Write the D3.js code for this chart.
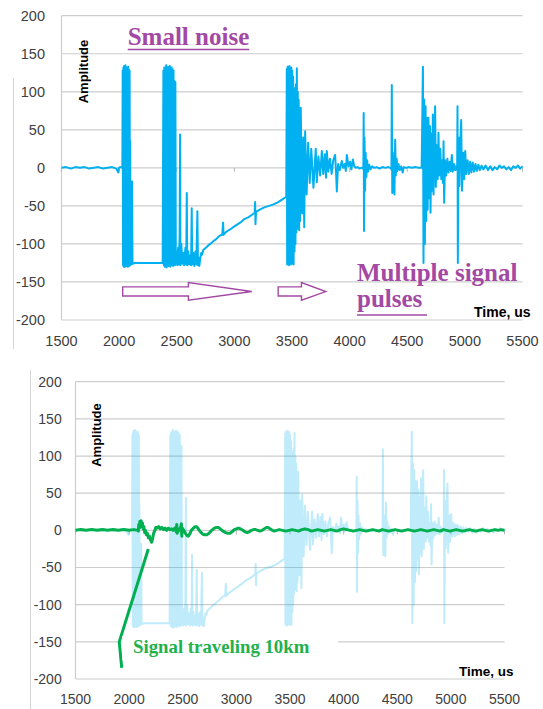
<!DOCTYPE html>
<html>
<head>
<meta charset="utf-8">
<script src="https://cdn.jsdelivr.net/npm/d3@7"></script>
<style>
  html, body { margin: 0; padding: 0; background: #fff; }
  svg { display: block; }
</style>
</head>
<body>
<svg id="chart" width="543" height="709"></svg>
<script>
// ---------------- DATA ----------------
const xTicks = [1500, 2000, 2500, 3000, 3500, 4000, 4500, 5000, 5500];
const yTicks = [200, 150, 100, 50, 0, -50, -100, -150, -200];

// Received pulse signal (time in us, amplitude), read segment by segment
const preTrigger = [[1500,0],[1540,1],[1580,-1],[1620,1],[1660,0],[1700,1],[1740,-1],[1780,0],[1820,1],[1860,-1],[1900,0],[1940,1],[1975,-1],[1993,-6],[1998,0],[2010,1],[2028,0]];
const burst1 = [[2031,128],[2034,-128],[2037,132],[2040,-130],[2043,134],[2046,-128],[2049,131],[2052,-130],[2055,135],[2058,-127],[2061,130],[2064,-129],[2067,132],[2070,-128],[2073,130],[2076,-130],[2079,133],[2082,-127],[2085,129],[2088,-129],[2091,128],[2094,-128],[2096,35],[2099,-127],[2103,-40],[2107,-127],[2112,-18],[2116,-126]];
const plateau = [[2140,-125],[2200,-125],[2260,-125],[2320,-125],[2378,-125]];
const burst2 = [[2384,128],[2388,-128],[2392,132],[2396,-130],[2400,131],[2404,-126],[2408,135],[2412,-131],[2416,130],[2420,-127],[2424,133],[2428,-129],[2432,131],[2436,-126],[2440,134],[2444,-130],[2448,130],[2452,-128],[2456,132],[2460,-127],[2464,130],[2468,-129],[2472,128],[2476,-126],[2480,114],[2484,-128],[2488,113],[2492,-126]];
const aftershocks = [[2500,-110],[2505,-128],[2512,-105],[2518,-127],[2525,-90],[2529,44],[2532,-128],[2540,-100],[2548,-126],[2556,-112],[2564,-128],[2575,-105],[2582,-127],[2587,-33],[2591,-128],[2600,-110],[2608,-127],[2616,-115],[2624,-128],[2630,-53],[2634,-127],[2643,-112],[2652,-129],[2662,-110],[2670,-127],[2679,-57],[2684,-128],[2690,-118],[2696,-129]];
const recovery = [[2705,-118],[2712,-112],[2720,-114],[2730,-108],[2745,-106],[2760,-104],[2780,-101],[2800,-99],[2820,-96],[2840,-94],[2860,-91],[2876,-89],[2895,-88],[2902,-72],[2906,-88],[2930,-84],[2963,-81],[3000,-77],[3030,-74],[3060,-71],[3090,-67],[3120,-65],[3150,-62],[3176,-59],[3180,-45],[3183,-74],[3188,-58],[3220,-55],[3260,-52],[3300,-50],[3340,-48],[3380,-45],[3420,-41],[3450,-38]];
const burst3 = [[3455,130],[3458,-127],[3462,133],[3466,-125],[3470,131],[3474,-128],[3478,134],[3482,-126],[3486,130],[3490,-127],[3494,132],[3498,-124],[3502,128],[3506,-126],[3510,120],[3514,-127],[3518,105],[3522,-110],[3526,94],[3530,-100],[3534,110],[3538,-85],[3542,131],[3546,-80],[3550,100],[3554,-75],[3558,90],[3562,-82],[3566,75],[3570,-70]];
const decay3 = [[3576,79],[3588,-60],[3598,40],[3606,-78],[3614,48],[3627,-35],[3640,33],[3654,-20],[3667,25],[3686,-26],[3706,25],[3715,-19],[3729,15],[3744,-10],[3759,22],[3771,-8],[3784,18],[3795,-13],[3802,22],[3815,-5],[3829,12],[3844,-8],[3858,10],[3874,17],[3882,-5],[3889,-31],[3900,5],[3915,-3],[3932,9],[3945,0],[3958,5],[3967,-4],[3976,17],[3990,2],[4004,8],[4015,-2],[4028,11],[4040,2],[4055,0],[4070,1],[4085,-1],[4100,0],[4115,0]];
const echo1 = [[4119,-2],[4122,72],[4125,-83],[4129,40],[4134,-30],[4139,20],[4145,-12],[4152,10],[4160,-5],[4170,4],[4182,-2],[4195,2],[4215,0],[4235,1],[4260,-1],[4285,1],[4310,0],[4335,1],[4355,0]];
const echo2 = [[4363,-2],[4366,109],[4370,-33],[4375,20],[4381,-15],[4389,-35],[4395,37],[4401,-10],[4408,12],[4415,-4],[4424,5],[4435,-3],[4447,2],[4460,-6],[4470,1],[4490,0],[4510,1],[4540,0],[4570,1],[4600,0],[4625,0]];
const burst4 = [[4636,133],[4641,-125],[4647,90],[4653,-100],[4659,81],[4665,-70],[4671,66],[4677,-55],[4684,66],[4690,-40],[4697,55],[4702,-59],[4710,45],[4717,-30],[4722,70],[4728,-35],[4735,40],[4742,81],[4748,-25],[4756,30],[4764,-15],[4771,46],[4778,-10],[4787,25],[4795,-15],[4803,10],[4810,-20],[4815,35],[4820,-46],[4828,10],[4838,-10],[4848,12],[4858,-6],[4868,8],[4878,-4],[4887,17],[4895,-5],[4905,5],[4915,-3],[4925,2]];
const burst5 = [[4933,-3],[4936,81],[4939,-125],[4945,40],[4952,-24],[4960,30],[4968,63],[4975,-30],[4985,20],[4994,-15],[5003,22],[5012,-8],[5024,10],[5035,-8],[5046,8],[5057,-6],[5068,7],[5080,-5],[5092,5],[5104,-4],[5117,4],[5130,-3],[5145,3],[5160,-2],[5180,3],[5200,-3],[5220,2],[5240,-3],[5260,1],[5280,-2],[5300,3],[5320,0],[5340,2],[5360,-2],[5380,1],[5400,-3],[5420,2],[5440,0],[5460,3],[5480,-1],[5500,2]];

// Signal after traveling 10 km (green trace)
const traceEarly = [[1500,0],[1550,1],[1600,0],[1650,1],[1700,0],[1750,1],[1800,0],[1850,1],[1900,0],[1950,1],[2000,0],[2040,1],[2080,0],[2086,-1],[2090,8],[2096,3],[2100,12],[2106,5],[2112,13],[2118,6],[2124,10],[2130,2],[2138,5],[2145,-3],[2152,0],[2160,-6],[2170,-4],[2180,-10],[2190,-8],[2200,-13],[2210,-16],[2218,-12],[2228,-4],[2240,0],[2250,4],[2260,3],[2275,5],[2290,2],[2305,4],[2320,1],[2335,3],[2350,0],[2365,3],[2380,1],[2395,2],[2410,0],[2425,3],[2440,-2],[2444,8],[2448,-4],[2460,2],[2475,0],[2487,9],[2491,-8],[2496,3],[2510,0],[2525,-4],[2540,-7],[2552,-8],[2565,-5],[2580,0],[2600,3],[2615,5],[2630,5],[2645,2],[2665,-2],[2685,-5],[2705,-6],[2724,-6],[2745,-4],[2770,0],[2795,3],[2815,4],[2832,4],[2850,2],[2875,-1],[2900,-3],[2920,-4],[2941,-4],[2960,-2],[2980,1],[3000,2],[3020,3],[3040,2],[3060,0],[3080,-2],[3100,-3],[3120,-2],[3140,0],[3160,1],[3180,1],[3200,0],[3220,-1],[3240,0],[3260,2],[3280,4],[3296,4],[3315,2],[3335,0],[3355,-1],[3375,0]];
const traceLate = [[3400,1],[3430,0],[3460,-1],[3490,0],[3520,1],[3550,0],[3580,-1],[3610,1],[3640,2],[3670,1],[3700,-1],[3730,0],[3760,1],[3790,0],[3820,-1],[3850,0],[3880,1],[3910,0],[3940,-1],[3970,1],[4000,2],[4030,1],[4060,0],[4090,-1],[4120,0],[4150,1],[4180,0],[4210,-1],[4240,0],[4270,1],[4300,0],[4330,-1],[4360,1],[4390,0],[4420,-1],[4450,0],[4480,1],[4510,0],[4540,-1],[4570,0],[4600,1],[4630,0],[4660,-1],[4690,0],[4720,1],[4750,0],[4780,-1],[4810,0],[4840,1],[4870,0],[4900,-1],[4930,1],[4960,0],[4990,-1],[5020,0],[5050,1],[5080,0],[5110,-1],[5140,0],[5170,1],[5200,0],[5230,-1],[5260,0],[5290,1],[5320,0],[5350,-1],[5380,0],[5410,1],[5440,0],[5470,1],[5500,0]];

// Annotation leader for "Signal traveling 10km" (time, amplitude)
const leader = [[2179,-25],[1908,-150],[1931,-185]];

const pulse = [].concat(preTrigger, burst1, plateau, burst2, aftershocks, recovery, burst3, decay3, echo1, echo2, burst4, burst5);
const trace = [].concat(traceEarly, traceLate);

// ---------------- DRAW ----------------
const svg = d3.select("#chart");
const BLUE = "#00b0f0", GREEN = "#00b050", PURPLE = "#a349a4", GRID = "#cdcdcd";
const tickFont = "'Liberation Sans', Arial, sans-serif";
const serif = "'Liberation Serif', 'Times New Roman', serif";

function panel(cfg) {
  const x = d3.scaleLinear().domain([1500, 5500]).range([cfg.left, cfg.right]);
  const y = d3.scaleLinear().domain([-200, 200]).range([cfg.bottom, cfg.top]);
  const g = svg.append("g");

  g.selectAll("line.grid").data(yTicks).join("line")
    .attr("x1", cfg.left).attr("x2", cfg.right)
    .attr("y1", d => y(d)).attr("y2", d => y(d))
    .attr("stroke", GRID).attr("stroke-width", 1.2);
  g.append("line").attr("x1", cfg.left).attr("x2", cfg.left)
    .attr("y1", y(200)).attr("y2", y(-200)).attr("stroke", GRID).attr("stroke-width", 1.2);
  g.selectAll("line.tk").data(xTicks).join("line")
    .attr("x1", d => x(d)).attr("x2", d => x(d))
    .attr("y1", y(0)).attr("y2", y(0) + 4)
    .attr("stroke", "#b5b5b5").attr("stroke-width", 1);

  g.selectAll("text.yl").data(yTicks).join("text")
    .attr("x", cfg.yLabelX).attr("y", d => y(d)).attr("dy", "0.35em")
    .attr("text-anchor", "end").attr("font-family", tickFont)
    .attr("font-size", cfg.fs).attr("fill", "#404040").text(d => d);
  g.selectAll("text.xl").data(xTicks).join("text")
    .attr("x", d => x(d)).attr("y", cfg.xLabelY)
    .attr("text-anchor", "middle").attr("font-family", tickFont)
    .attr("font-size", cfg.fs).attr("fill", "#404040").text(d => d);

  g.append("text").attr("transform", `translate(${cfg.ampX},${cfg.ampY}) rotate(-90)`)
    .attr("text-anchor", "middle").attr("font-family", tickFont).attr("font-weight", "bold")
    .attr("font-size", 13).attr("fill", "#000").text("Amplitude");
  g.append("text").attr("x", cfg.timeX).attr("y", cfg.timeY)
    .attr("font-family", tickFont).attr("font-weight", "bold")
    .attr("font-size", cfg.timeFs).attr("fill", "#000").text("Time, us");

  const line = d3.line().x(d => x(d[0])).y(d => y(d[1]));
  return { g, x, y, line };
}

// ---- top panel ----
const topP = panel({ left: 61.5, right: 522.5, top: 15.7, bottom: 320, yLabelX: 45, xLabelY: 345.5,
  fs: 14.5, ampX: 88, ampY: 71.5, timeX: 474, timeY: 316.5, timeFs: 14 });
topP.g.append("path").datum(pulse).attr("d", topP.line)
  .attr("fill", "none").attr("stroke", BLUE).attr("stroke-width", 2).attr("stroke-linejoin", "round");

svg.append("line").attr("x1", 13.5).attr("x2", 13.5).attr("y1", 78).attr("y2", 349)
  .attr("stroke", "#d6d6d6").attr("stroke-width", 1);

topP.g.append("text").attr("x", 127.7).attr("y", 45).attr("font-family", serif).attr("font-weight", "bold")
  .attr("font-size", 25).attr("fill", PURPLE).text("Small noise");
topP.g.append("line").attr("x1", 127.7).attr("x2", 249.3).attr("y1", 49.5).attr("y2", 49.5)
  .attr("stroke", PURPLE).attr("stroke-width", 1.5);
topP.g.append("text").attr("x", 357).attr("y", 280.7).attr("font-family", serif).attr("font-weight", "bold")
  .attr("font-size", 25).attr("fill", PURPLE).text("Multiple signal");
topP.g.append("text").attr("x", 357).attr("y", 306.5).attr("font-family", serif).attr("font-weight", "bold")
  .attr("font-size", 25).attr("fill", PURPLE).text("pulses");
topP.g.append("line").attr("x1", 357).attr("x2", 427).attr("y1", 315).attr("y2", 315)
  .attr("stroke", PURPLE).attr("stroke-width", 1.5);

function arrow(x0, xh, x1, yc) {
  const pts = [[x0, yc - 4.7], [xh, yc - 4.7], [xh, yc - 9], [x1, yc], [xh, yc + 8.7], [xh, yc + 4.4], [x0, yc + 4.4]];
  topP.g.append("polygon").attr("points", pts.map(p => p.join(",")).join(" "))
    .attr("fill", "#fff").attr("stroke", PURPLE).attr("stroke-width", 1.4);
}
arrow(topP.x(2031), topP.x(2601), topP.x(3151), topP.y(-162.6));
arrow(topP.x(3380), topP.x(3582), topP.x(3793), topP.y(-162.6));

// ---- bottom panel ----
const botP = panel({ left: 75.5, right: 504.5, top: 381.7, bottom: 679, yLabelX: 61.7, xLabelY: 703.5,
  fs: 14, ampX: 101, ampY: 435, timeX: 459, timeY: 675.5, timeFs: 13.5 });
botP.g.append("path").datum(pulse).attr("d", botP.line)
  .attr("fill", "none").attr("stroke", BLUE).attr("stroke-opacity", 0.25).attr("stroke-width", 2).attr("stroke-linejoin", "round");
botP.g.append("path").datum(trace).attr("d", botP.line)
  .attr("fill", "none").attr("stroke", GREEN).attr("stroke-width", 3).attr("stroke-linejoin", "round");
botP.g.append("path").datum(leader).attr("d", botP.line)
  .attr("fill", "none").attr("stroke", GREEN).attr("stroke-width", 3).attr("stroke-linejoin", "round");

svg.append("line").attr("x1", 30.5).attr("x2", 30.5).attr("y1", 370).attr("y2", 709)
  .attr("stroke", "#d6d6d6").attr("stroke-width", 1);

botP.g.append("rect").attr("x", 122).attr("y", 636).attr("width", 216).attr("height", 24).attr("fill", "#fff");
botP.g.append("text").attr("x", 133).attr("y", 653).attr("font-family", serif).attr("font-weight", "bold")
  .attr("font-size", 18.8).attr("fill", "#22b14c").text("Signal traveling 10km");
</script>
</body>
</html>
